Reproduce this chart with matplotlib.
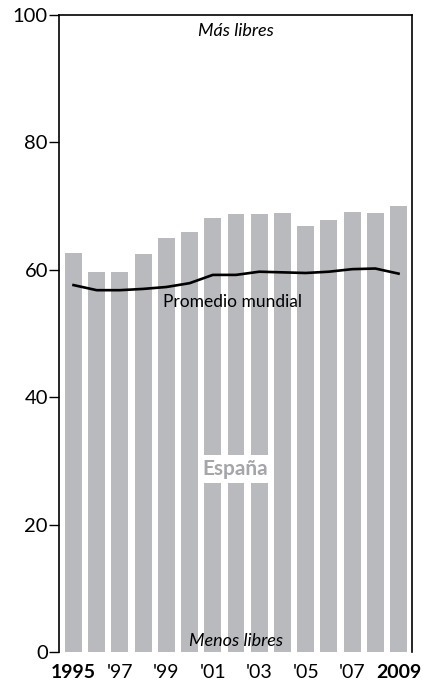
import numpy as np
from matplotlib import pyplot as plt

plt.rcParams['font.family'] = ['Lato', 'DejaVu Sans']

years = np.arange(1995, 2010)
spain = [62.6, 59.7, 59.7, 62.5, 65.0, 65.9, 68.1, 68.8, 68.8, 68.9, 66.9, 67.8, 69.1, 68.9, 70.0]
world = [57.6, 56.8, 56.8, 57.0, 57.3, 57.9, 59.2, 59.2, 59.7, 59.6, 59.5, 59.7, 60.1, 60.2, 59.4]
year_labels = ['1995', "'97", "'99", "'01", "'03", "'05", "'07", '2009']

fig = plt.figure(figsize=(4.28, 6.84), dpi=100)
ax = fig.add_axes([59 / 428, 32 / 684, 353 / 428, 637 / 684])

x = np.arange(len(years))
ax.bar(x, spain, width=0.73, color='#b9babd', zorder=1)
ax.plot(x, world, color='black', lw=1.9, zorder=3)

ax.set_xlim(-0.625, 14.58)
ax.set_ylim(0, 100)

ax.spines['bottom'].set_visible(False)
for s in ['left', 'top', 'right']:
    ax.spines[s].set_linewidth(1.2)

ax.set_yticks([0, 20, 40, 60, 80, 100])
ax.tick_params(axis='y', length=7, width=1, labelsize=14.5, pad=1)
ax.set_xticks(x[::2])
ax.set_xticklabels(year_labels)
ax.tick_params(axis='x', length=0, labelsize=14, pad=9)
for lbl in ax.get_xticklabels():
    if lbl.get_text() in ('1995', '2009'):
        lbl.set_fontweight('bold')

ax.text(7, 97.5, 'Más libres', ha='center', va='center', style='italic', fontsize=13)
ax.text(7, 1.8, 'Menos libres', ha='center', va='center', style='italic', fontsize=13)
ax.text(6.85, 55.0, 'Promedio mundial', ha='center', va='center', fontsize=12.5, zorder=4)
ax.text(6.96, 28.7, 'España', ha='center', va='center', fontsize=15, fontweight='bold',
        color='#a5a6a9', zorder=4,
        bbox=dict(facecolor='white', edgecolor='none', pad=3))

fig.savefig('out.png', dpi=100)
